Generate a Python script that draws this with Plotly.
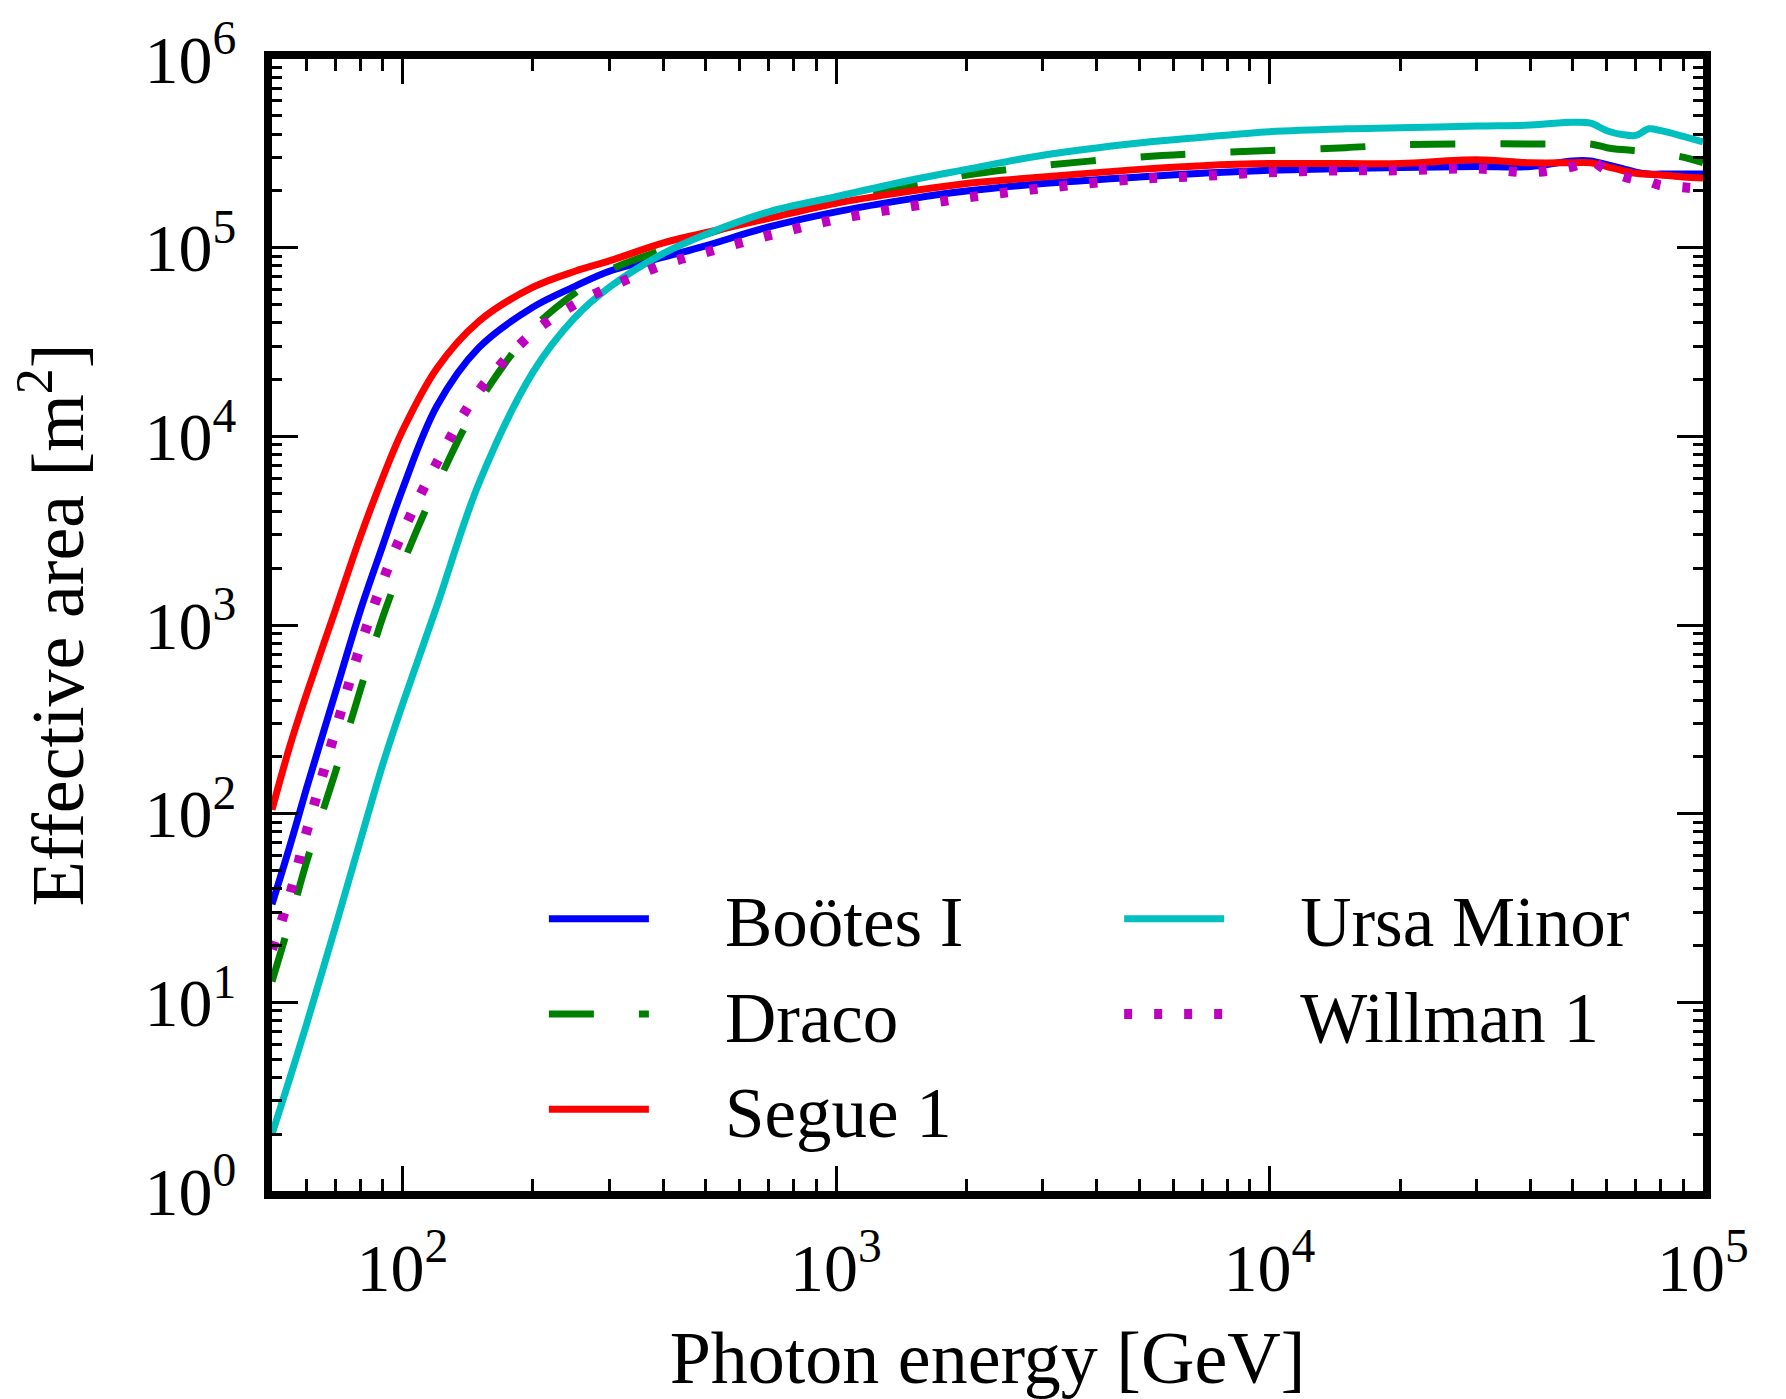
import plotly.graph_objects as go

# Photon energy grid (GeV)
energy_gev = [50, 55, 60, 70, 80, 90, 100, 120, 150, 200, 250, 300, 400, 500, 700,
              1000, 1500, 2000, 3000, 5000, 7000, 10000, 15000, 20000, 30000, 40000,
              50000, 55000, 60000, 65000, 70000, 75000, 80000, 90000, 100000]

# Effective area (m^2)
bootes_i = [33.1, 67.6, 135, 437, 1200, 2630, 5250, 14450, 29510, 48400, 62400, 75000,
            89100, 102300, 128800, 154900, 182000, 199500, 218800, 237100, 248300, 257000,
            263000, 266100, 269200, 269200, 288400, 288400, 275400, 263000, 251200, 245500,
            245500, 245500, 245500]
draco = [12.9, 26.9, 55.0, 166, 457, 1096, 2089, 5495, 15140, 37150, 57540, 75860,
         97720, 117500, 147900, 177800, 213800, 242700, 272300, 302000, 316200, 327300,
         338800, 350800, 354800, 354800, 354800, 354800, 338800, 331100, 327300, 323600,
         316200, 302000, 281800]
segue_1 = [105, 229, 427, 1200, 2950, 6030, 10700, 22900, 40700, 61700, 75000, 85100,
           106000, 120000, 143000, 172000, 200000, 219000, 237000, 260000, 272000, 279000,
           279000, 279000, 292000, 282000, 282000, 282000, 269000, 257000, 248000, 245000,
           243000, 237000, 234000]
ursa_minor = [2.0, 3.98, 7.59, 25.1, 72.4, 182, 380, 1259, 5623, 21880, 42660, 61660,
              93330, 117500, 154900, 186200, 229100, 260000, 309000, 358900, 384600, 412100,
              426600, 431500, 441600, 446700, 462400, 457100, 416900, 398100, 393600, 426600,
              416900, 389000, 363100]
willman_1 = [19.1, 37.2, 79.4, 275, 776, 1698, 3090, 7244, 17380, 35480, 50120, 61660,
             81280, 94410, 116100, 141300, 166000, 184100, 206500, 231700, 239900, 251200,
             257000, 257000, 263000, 251200, 269200, 288400, 257000, 239900, 229100, 223900,
             213800, 208900, 204200]

x_tick_vals = [100, 1000, 10000, 100000]
x_tick_text = ["10<sup>2</sup>", "10<sup>3</sup>", "10<sup>4</sup>", "10<sup>5</sup>"]
y_tick_vals = [1, 10, 100, 1000, 10000, 100000, 1000000]
y_tick_text = ["10<sup>0</sup>", "10<sup>1</sup>", "10<sup>2</sup>", "10<sup>3</sup>",
               "10<sup>4</sup>", "10<sup>5</sup>", "10<sup>6</sup>"]

FONT = "Liberation Serif"
GAP = "\u2002\u2002"  # spacing between legend sample line and label

series = [
    ("Boötes I", bootes_i, dict(color="#0000ff", width=7), "legend"),
    ("Draco", draco, dict(color="#008000", width=7, dash="45px,45px"), "legend"),
    ("Segue 1", segue_1, dict(color="#ff0000", width=7), "legend"),
    ("Ursa Minor", ursa_minor, dict(color="#00bfbf", width=7), "legend2"),
    ("Willman 1", willman_1, dict(color="#bf00bf", width=10, dash="8px,22px"), "legend2"),
]

fig = go.Figure()
for name, vals, line, leg in series:
    fig.add_trace(go.Scatter(x=energy_gev, y=vals, mode="lines", name=GAP + name,
                             line=dict(shape="spline", smoothing=1.0, **line),
                             legend=leg))

axis_common = dict(
    type="log", showline=True, linecolor="black", linewidth=8, mirror="allticks",
    ticks="inside", tickcolor="black", tickwidth=3, showgrid=False, zeroline=False,
    tickfont=dict(family=FONT, size=68, color="black"),
)

fig.update_xaxes(
    **axis_common,
    range=[1.69897, 5], tickmode="array", tickvals=x_tick_vals, ticktext=x_tick_text,
    ticklen=25, ticklabelstandoff=10,
    minor=dict(ticks="inside", ticklen=12, tickwidth=3, tickcolor="black", dtick="D1", showgrid=False),
    title=dict(text="Photon energy [GeV]", font=dict(family=FONT, size=74, color="black"), standoff=30),
)
fig.update_yaxes(
    **axis_common,
    range=[0, 6], tickmode="array", tickvals=y_tick_vals, ticktext=y_tick_text,
    ticklen=26, ticklabelstandoff=14,
    minor=dict(ticks="inside", ticklen=10, tickwidth=3, tickcolor="black", dtick="D1", showgrid=False),
    title=dict(text="Effective area [m<sup>2</sup>]", font=dict(family=FONT, size=74, color="black"), standoff=40),
)

legend_common = dict(
    font=dict(family=FONT, size=71, color="black"), bgcolor="rgba(0,0,0,0)",
    borderwidth=0, itemwidth=100, tracegroupgap=0, orientation="v",
    xanchor="left", yanchor="top",
)

fig.update_layout(
    width=1786, height=1399,
    margin=dict(l=272, r=83, t=54, b=191),
    plot_bgcolor="white", paper_bgcolor="white",
    showlegend=True,
    legend=dict(x=0.19, y=0.287, **legend_common),
    legend2=dict(x=0.592, y=0.287, **legend_common),
)

fig.write_html("out.html")
